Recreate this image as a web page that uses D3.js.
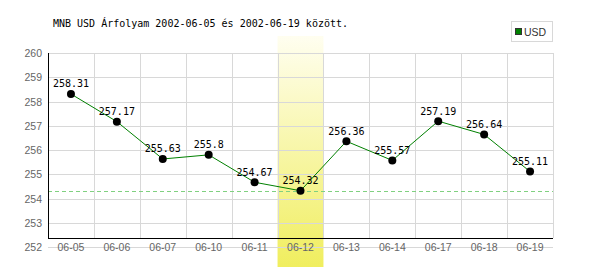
<!DOCTYPE html>
<html><head><meta charset="utf-8">
<script src="https://cdn.jsdelivr.net/npm/d3@7"></script>
<style>body{margin:0;background:#fff}</style>
</head><body>
<script>
const categories = ["06-05","06-06","06-07","06-10","06-11","06-12","06-13","06-14","06-17","06-18","06-19"];
const values = [258.31,257.17,255.63,255.8,254.67,254.32,256.36,255.57,257.19,256.64,255.11];
const yTicks = [252,253,254,255,256,257,258,259,260];
const highlight = "06-12";
const refValue = 254.32;
const seriesName = "USD";
const title = "MNB USD Árfolyam 2002-06-05 és 2002-06-19 között.";

const W = 600, H = 270;
const svg = d3.select("body").append("svg").attr("width", W).attr("height", H);
const defs = svg.append("defs");
const grad = defs.append("linearGradient").attr("id","hl").attr("x1",0).attr("y1",0).attr("x2",0).attr("y2",1);
grad.append("stop").attr("offset","0%").attr("stop-color","#fffef0");
grad.append("stop").attr("offset","100%").attr("stop-color","#f0ee5e");

const x = d3.scaleBand().domain(categories).range([48, 553]);
const y = d3.scaleLinear().domain([252, 260]).range([247, 53]);
const axisY = 238;

// highlight band
svg.append("rect").attr("x", x(highlight)).attr("width", x.bandwidth())
  .attr("y", 36).attr("height", 231).attr("fill", "url(#hl)");

// horizontal grid
svg.append("g").selectAll("line").data(yTicks).join("line")
  .attr("x1", 48).attr("x2", 553).attr("y1", d => Math.round(y(d))+0.5).attr("y2", d => Math.round(y(d))+0.5)
  .attr("stroke", "#d8d8d8").attr("stroke-width", 1);
// vertical grid
svg.append("g").selectAll("line").data(categories.slice(1).concat([null])).join("line")
  .attr("x1", (d,i) => Math.round(48 + (i+1)*x.step())+0.5)
  .attr("x2", (d,i) => Math.round(48 + (i+1)*x.step())+0.5)
  .attr("y1", Math.round(y(260))).attr("y2", axisY)
  .attr("stroke", "#d8d8d8").attr("stroke-width", 1);

// reference dashed line
svg.append("line").attr("x1", 48).attr("x2", 553)
  .attr("y1", Math.round(y(refValue))+0.5).attr("y2", Math.round(y(refValue))+0.5)
  .attr("stroke", "#80d080").attr("stroke-dasharray", "4,3");

// axes lines
svg.append("line").attr("x1", 48.5).attr("x2", 48.5).attr("y1", Math.round(y(260))).attr("y2", axisY+0.5)
  .attr("stroke", "#000");
svg.append("line").attr("x1", 48).attr("x2", 553).attr("y1", axisY+0.5).attr("y2", axisY+0.5)
  .attr("stroke", "#000");

// y labels
const yAxis = d3.axisLeft(y).tickValues(yTicks).tickSize(0).tickPadding(0);
const gy = svg.append("g").attr("transform", "translate(42,0)").call(yAxis);
gy.select(".domain").remove();
gy.selectAll("text").attr("fill", "#666").attr("font-family", "Liberation Sans, Arial, sans-serif").attr("font-size", 10.5).attr("dy", "0.35em");

// x labels
const xAxis = d3.axisBottom(x).tickSize(0).tickPadding(0);
const gx = svg.append("g").attr("transform", `translate(0,${y(252)})`).call(xAxis);
gx.select(".domain").remove();
gx.selectAll("text").attr("fill", "#666").attr("font-family", "Liberation Sans, Arial, sans-serif").attr("font-size", 10.5).attr("dy", "0.35em");

// line
const cx = d => x(d) + x.bandwidth()/2;
const pts = categories.map((c,i) => [cx(c), y(values[i])]);
svg.append("path").attr("d", d3.line()(pts)).attr("fill", "none").attr("stroke", "#008000").attr("stroke-width", 1);

// points
svg.append("g").selectAll("circle").data(values).join("circle")
  .attr("cx", (d,i) => cx(categories[i])).attr("cy", d => y(d)).attr("r", 4).attr("fill", "#000");

// value labels
svg.append("g").selectAll("text").data(values).join("text")
  .attr("x", (d,i) => cx(categories[i])).attr("y", d => y(d) - 10)
  .attr("dy", "0.35em").attr("text-anchor", "middle")
  .attr("font-family", "DejaVu Sans Mono, monospace").attr("font-size", 10).attr("fill", "#000")
  .text(d => String(d));

// title
svg.append("text").attr("x", 53).attr("y", 23).attr("dy", "0.35em")
  .attr("font-family", "DejaVu Sans Mono, monospace").attr("font-size", 10).attr("fill", "#000")
  .text(title);

// legend
const lg = svg.append("g");
lg.append("rect").attr("x", 511.5).attr("y", 21.5).attr("width", 41).attr("height", 20)
  .attr("fill", "#fff").attr("stroke", "#d8d8d8");
lg.append("rect").attr("x", 515.5).attr("y", 28.5).attr("width", 6).attr("height", 6)
  .attr("fill", "#008000").attr("stroke", "#333");
lg.append("text").attr("x", 524).attr("y", 32).attr("dy", "0.35em")
  .attr("font-family", "Liberation Sans, Arial, sans-serif").attr("font-size", 10.5).attr("fill", "#333")
  .text(seriesName);
</script>
</body></html>
